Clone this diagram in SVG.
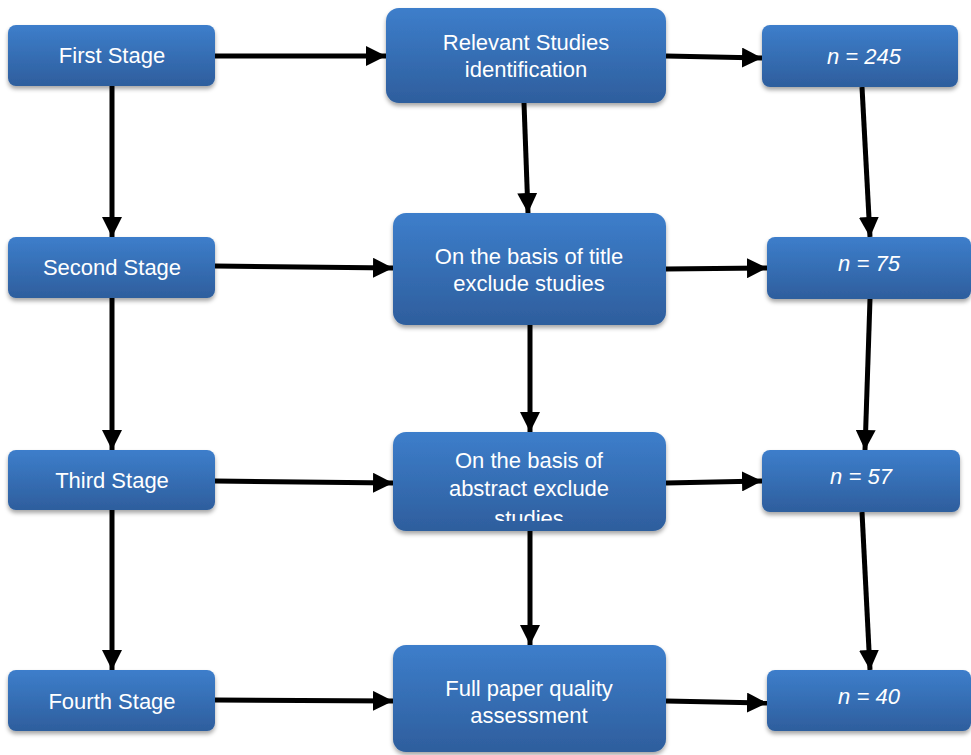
<svg xmlns="http://www.w3.org/2000/svg" width="971" height="755" viewBox="0 0 971 755">
<style>
.box{fill:url(#g);filter:url(#sh)}
.t{font-family:"Liberation Sans",Arial,sans-serif;font-size:22px;fill:#fff;text-anchor:middle}
.i{font-style:italic}
.c line{stroke:#000;stroke-width:5;marker-end:url(#ah)}
</style>
<defs>
<linearGradient id="g" x1="0" y1="0" x2="0" y2="1">
<stop offset="0" stop-color="#3d7ecb"/>
<stop offset="1" stop-color="#2e5e9d"/>
</linearGradient>
<filter id="sh" x="-10%" y="-10%" width="120%" height="130%">
<feDropShadow dx="0" dy="3" stdDeviation="2" flood-color="#000" flood-opacity="0.35"/>
</filter>
<marker id="ah" markerUnits="userSpaceOnUse" markerWidth="22" markerHeight="20" refX="20" refY="10" orient="auto">
<path d="M0,0 L20,10 L0,20 Z" fill="#000"/>
</marker>
<clipPath id="clipA"><rect x="393" y="432" width="273" height="89" rx="12"/></clipPath>
</defs>
<rect width="971" height="755" fill="#fff"/>
<g class="c" id="connectors">
<line x1="215" y1="56" x2="386" y2="56"/>
<line x1="215" y1="266" x2="393" y2="268"/>
<line x1="215" y1="481" x2="393" y2="483"/>
<line x1="215" y1="700" x2="393" y2="701"/>
<line x1="666" y1="56" x2="762" y2="58"/>
<line x1="666" y1="269" x2="767" y2="268"/>
<line x1="666" y1="483" x2="762" y2="481"/>
<line x1="666" y1="701" x2="767" y2="703"/>
<line x1="112" y1="86" x2="112" y2="237"/>
<line x1="112" y1="298" x2="112" y2="450"/>
<line x1="112" y1="510" x2="112" y2="670"/>
<line x1="524" y1="103" x2="528" y2="213"/>
<line x1="530" y1="325" x2="530" y2="432"/>
<line x1="530" y1="531" x2="530" y2="645"/>
<line x1="862" y1="87" x2="870" y2="237"/>
<line x1="870" y1="299" x2="865" y2="450"/>
<line x1="862" y1="512" x2="870" y2="670"/>
</g>
<g id="first"><rect class="box" x="8" y="25" width="207" height="61" rx="8"/><text class="t" x="112" y="63">First Stage</text></g>
<g id="second"><rect class="box" x="8" y="237" width="207" height="61" rx="8"/><text class="t" x="112" y="275">Second Stage</text></g>
<g id="third"><rect class="box" x="8" y="450" width="207" height="60" rx="8"/><text class="t" x="112" y="488">Third Stage</text></g>
<g id="fourth"><rect class="box" x="8" y="670" width="207" height="61" rx="8"/><text class="t" x="112" y="709">Fourth Stage</text></g>
<g id="relevant"><rect class="box" x="386" y="8" width="280" height="95" rx="13"/><text class="t" x="526" y="50">Relevant Studies</text><text class="t" x="526" y="77">identification</text></g>
<g id="title"><rect class="box" x="393" y="213" width="273" height="112" rx="13"/><text class="t" x="529" y="264">On the basis of title</text><text class="t" x="529" y="291">exclude studies</text></g>
<g id="abstract"><rect class="box" x="393" y="432" width="273" height="99" rx="13"/><g clip-path="url(#clipA)"><text class="t" x="529" y="468">On the basis of</text><text class="t" x="529" y="496">abstract exclude</text><text class="t" x="529" y="526">studies</text></g></g>
<g id="full"><rect class="box" x="393" y="645" width="273" height="107" rx="13"/><text class="t" x="529" y="696">Full paper quality</text><text class="t" x="529" y="723">assessment</text></g>
<g id="n245"><rect class="box" x="762" y="25" width="196" height="62" rx="8"/><text class="t i" x="864" y="64">n = 245</text></g>
<g id="n75"><rect class="box" x="767" y="237" width="204" height="62" rx="8"/><text class="t i" x="869" y="271">n = 75</text></g>
<g id="n57"><rect class="box" x="762" y="450" width="198" height="62" rx="8"/><text class="t i" x="861" y="484">n = 57</text></g>
<g id="n40"><rect class="box" x="767" y="670" width="204" height="61" rx="8"/><text class="t i" x="869" y="704">n = 40</text></g>
</svg>
